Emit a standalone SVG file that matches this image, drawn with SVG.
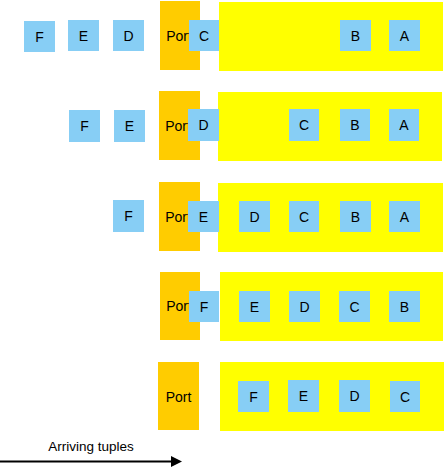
<svg xmlns="http://www.w3.org/2000/svg" width="446" height="468" viewBox="0 0 446 468">
<style>
.port{fill:#FFCC00}
.queue{fill:#FFFF00}
.tuple{fill:#87CEF5}
text{font-family:"Liberation Sans",Arial,sans-serif;font-size:14px;fill:#000;text-anchor:middle}
.lbl{font-size:13.5px}
</style>
<defs>
<marker id="ah" markerWidth="11" markerHeight="11" refX="0" refY="5.5" orient="auto" markerUnits="userSpaceOnUse">
<path d="M0,0 L11,5.5 L0,11 Z" fill="#000"/>
</marker>
</defs>
<rect width="446" height="468" fill="#fff"/>

<g id="row1">
<g id="queue1"><rect class="queue" x="219" y="2" width="224" height="69"/></g>
<g id="port1"><rect class="port" x="160" y="1" width="40" height="69"/><text x="179" y="40.5">Port</text></g>
<g id="r1F"><rect class="tuple" x="24" y="21" width="31" height="31"/><text x="39.5" y="41.5">F</text></g>
<g id="r1E"><rect class="tuple" x="68" y="20" width="31" height="31"/><text x="83.5" y="40.5">E</text></g>
<g id="r1D"><rect class="tuple" x="113" y="20" width="31" height="31"/><text x="128.5" y="40.5">D</text></g>
<g id="r1C"><rect class="tuple" x="189" y="20" width="30" height="31"/><text x="204" y="40.5">C</text></g>
<g id="r1B"><rect class="tuple" x="340" y="20" width="31" height="31"/><text x="355.5" y="40.5">B</text></g>
<g id="r1A"><rect class="tuple" x="389" y="20" width="31" height="31"/><text x="404.5" y="40.5">A</text></g>
</g>

<g id="row2">
<g id="queue2"><rect class="queue" x="218" y="92" width="224" height="69"/></g>
<g id="port2"><rect class="port" x="159" y="91" width="41" height="69"/><text x="178" y="130.5">Port</text></g>
<g id="r2F"><rect class="tuple" x="69" y="110" width="31" height="32"/><text x="84.5" y="131">F</text></g>
<g id="r2E"><rect class="tuple" x="114" y="110" width="31" height="32"/><text x="129.5" y="131">E</text></g>
<g id="r2D"><rect class="tuple" x="188" y="109" width="31" height="32"/><text x="203.5" y="130">D</text></g>
<g id="r2C"><rect class="tuple" x="289" y="109" width="30" height="32"/><text x="304" y="130">C</text></g>
<g id="r2B"><rect class="tuple" x="340" y="109" width="30" height="32"/><text x="355" y="130">B</text></g>
<g id="r2A"><rect class="tuple" x="389" y="109" width="30" height="32"/><text x="404" y="130">A</text></g>
</g>

<g id="row3">
<g id="queue3"><rect class="queue" x="218" y="183" width="225" height="69"/></g>
<g id="port3"><rect class="port" x="159" y="182" width="41" height="69"/><text x="178" y="221.5">Port</text></g>
<g id="r3F"><rect class="tuple" x="113" y="200" width="31" height="32"/><text x="128.5" y="221">F</text></g>
<g id="r3E"><rect class="tuple" x="188" y="201" width="31" height="31"/><text x="203.5" y="221.5">E</text></g>
<g id="r3D"><rect class="tuple" x="239" y="201" width="31" height="31"/><text x="254.5" y="221.5">D</text></g>
<g id="r3C"><rect class="tuple" x="289" y="201" width="30" height="31"/><text x="304" y="221.5">C</text></g>
<g id="r3B"><rect class="tuple" x="340" y="201" width="31" height="31"/><text x="355.5" y="221.5">B</text></g>
<g id="r3A"><rect class="tuple" x="389" y="201" width="31" height="31"/><text x="404.5" y="221.5">A</text></g>
</g>

<g id="row4">
<g id="queue4"><rect class="queue" x="220" y="272" width="223" height="69"/></g>
<g id="port4"><rect class="port" x="160" y="272" width="40" height="68"/><text x="179" y="311">Port</text></g>
<g id="r4F"><rect class="tuple" x="189" y="291" width="30" height="31"/><text x="204" y="311.5">F</text></g>
<g id="r4E"><rect class="tuple" x="239" y="291" width="31" height="31"/><text x="254.5" y="311.5">E</text></g>
<g id="r4D"><rect class="tuple" x="289" y="291" width="31" height="31"/><text x="304.5" y="311.5">D</text></g>
<g id="r4C"><rect class="tuple" x="339" y="291" width="31" height="31"/><text x="354.5" y="311.5">C</text></g>
<g id="r4B"><rect class="tuple" x="389" y="291" width="31" height="31"/><text x="404.5" y="311.5">B</text></g>
</g>

<g id="row5">
<g id="queue5"><rect class="queue" x="220" y="362" width="224" height="69"/></g>
<g id="port5"><rect class="port" x="158" y="362" width="41" height="68"/><text x="178.5" y="401.5">Port</text></g>
<g id="r5F"><rect class="tuple" x="238" y="381" width="31" height="31"/><text x="253.5" y="402">F</text></g>
<g id="r5E"><rect class="tuple" x="288" y="380" width="31" height="32"/><text x="303.5" y="401">E</text></g>
<g id="r5D"><rect class="tuple" x="339" y="380" width="31" height="32"/><text x="354.5" y="401">D</text></g>
<g id="r5C"><rect class="tuple" x="390" y="381" width="30" height="31"/><text x="405" y="402">C</text></g>
</g>

<g id="connectors">
<line x1="0" y1="461.5" x2="171" y2="461.5" stroke="#000" stroke-width="2" marker-end="url(#ah)"/>
</g>
<g id="arrow-label"><text class="lbl" x="91" y="451">Arriving tuples</text></g>
</svg>
